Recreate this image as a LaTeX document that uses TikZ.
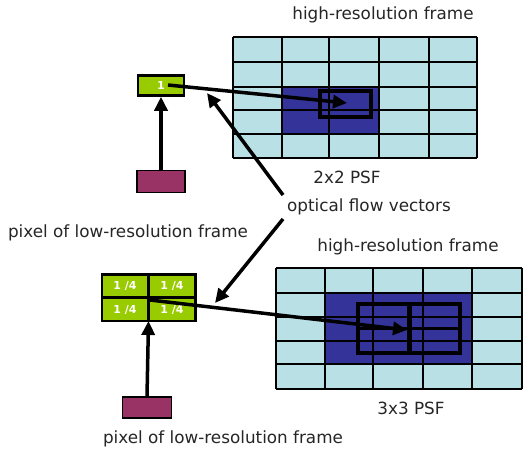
\documentclass[tikz,border=0pt]{standalone}
\usepackage{fontspec}
\setmainfont{DejaVu Sans}
\usetikzlibrary{arrows.meta}
\definecolor{lightc}{RGB}{185,224,228}
\definecolor{darkb}{RGB}{51,51,153}
\definecolor{lgreen}{RGB}{153,204,0}
\definecolor{magen}{RGB}{153,51,102}
\begin{document}
\begin{tikzpicture}[x=1pt,y=-1pt,
  lbl/.style={font=\fontsize{16.8}{19}\selectfont, inner sep=0pt, text=black!85},
  arr/.style={line width=3.5pt, -{Triangle[length=14pt,width=13pt]}},
  gridline/.style={line width=1.5pt},
  psfbox/.style={draw, line width=3.5pt, inner sep=0pt},
  pix/.style={draw, line width=2.5pt, fill=lgreen, inner sep=0pt, text=white, font=\bfseries\fontsize{11}{12}\selectfont},
  lowpix/.style={draw, line width=1.5pt, fill=magen, inner sep=0pt, minimum width=48pt, minimum height=22pt}]
\useasboundingbox (0,0) rectangle (529,452);
\fill[white] (0,0) rectangle (529,452);

% ---------- top high-resolution frame ----------
\fill[lightc] (233,37) rectangle (477,158);
\fill[darkb] (282,87) rectangle (379,134);
\foreach \x in {233,282,329,379,429,477} \draw[gridline] (\x,37) -- (\x,158);
\foreach \y in {37,62,87,110,134,158} \draw[gridline] (233,\y) -- (477,\y);
\node[psfbox, minimum width=51pt, minimum height=26pt] (p1) at (345.5,104) {};
\coordinate (b1) at (347,103);

% ---------- top low-resolution pixel ----------
\node[pix, minimum width=46pt, minimum height=20pt] (g1) at (161,85.5) {1};
\coordinate (a1) at (168,85);
\node[lowpix] (m1) at (161,181.5) {};
\draw[arr] (m1.north) -- (g1.south);
\draw[arr] (a1) -- (b1);

% ---------- labels ----------
\node[lbl] (hr1) at (383,15) {high-resolution frame};
\node[lbl] (psf2) at (347,177) {2x2 PSF};
\node[lbl] (flow) at (369,207) {optical flow vectors};
\node[lbl] (pl1) at (128,233) {pixel of low-resolution frame};
\node[lbl] (hr2) at (408,247) {high-resolution frame};
\node[lbl] (psf3) at (411,408) {3x3 PSF};
\node[lbl] (pl2) at (223,439) {pixel of low-resolution frame};

% ---------- optical flow arrows ----------
\coordinate (f1) at (283,195);
\coordinate (f2) at (283,219);
\coordinate (t1) at (207,93);
\coordinate (t2) at (215,303);
\draw[arr] (f1) -- (t1);
\draw[arr] (f2) -- (t2);

% ---------- bottom high-resolution frame ----------
\fill[lightc] (276,268) rectangle (522,389);
\fill[darkb] (325,293) rectangle (472,364);
\foreach \x in {276,325,373,423,472,522} \draw[gridline] (\x,268) -- (\x,389);
\foreach \y in {268,293,317,341,364,389} \draw[gridline] (276,\y) -- (522,\y);
\node[psfbox, minimum width=102pt, minimum height=49pt] (p3) at (409,328.5) {};
\draw[line width=5pt] (p3.north) -- (p3.south);
\draw[line width=3.5pt] (p3.west) -- (p3.east);
\coordinate (b3) at (407,330);

% ---------- bottom low-resolution pixel (2x2) ----------
\node[pix, minimum width=46.5pt, minimum height=23pt] (q1) at (125,286) {1 /4};
\node[pix, minimum width=46.5pt, minimum height=23pt] (q2) at (172,286) {1 /4};
\node[pix, minimum width=46.5pt, minimum height=23pt] (q3) at (125,309.5) {1 /4};
\node[pix, minimum width=46.5pt, minimum height=23pt] (q4) at (172,309.5) {1 /4};
\coordinate (a3) at (150,300);
\coordinate (qb) at (148.5,321);
\node[lowpix, minimum width=49pt, minimum height=21pt] (m2) at (147,407.5) {};
\draw[arr] (m2.north) -- (qb);
\draw[arr] (a3) -- (b3);
\end{tikzpicture}
\end{document}
